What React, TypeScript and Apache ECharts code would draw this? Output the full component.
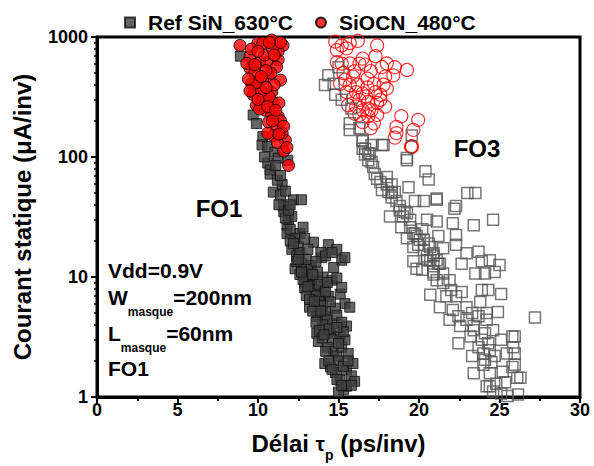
import React, { useEffect, useRef } from "react";
import * as echarts from "echarts";

const FONT = "'Liberation Sans', Arial, sans-serif";

const legendNames = ["Ref SiN_630°C", "SiOCN_480°C"];
const xName = "{b|Délai }{t|τ}{s|p}{b| (ps/inv)}";
const yName = "Courant statique (μA/inv)";

// Ref SiN 630°C, FO1 (filled squares)
const refSiN_FO1: [number, number][] = [
  [8.9, 692], [9.7, 224], [10.3, 148], [10.25, 126], [10.6, 122], [10.6, 89], [10.75, 78], [11.05, 110], [11.25, 98], [11.85, 94],
  [10.75, 72], [10.95, 51], [11.5, 59], [11.57, 39], [12.2, 44], [12.7, 44], [11.8, 27], [11.8, 23], [12.6, 23], [12.1, 17],
  [13.45, 19.5], [14.37, 18.6], [14.9, 17], [15.2, 13.8], [13.95, 14.5], [12.3, 11.7], [12.9, 8.9], [13.35, 9.4], [14.05, 10], [14.6, 9.4],
  [12.9, 8.1], [13.2, 5.6], [13.85, 6.9], [14.37, 6.9], [15.1, 7.2], [15.4, 6.0], [13.65, 4.7], [14.15, 4.7], [14.7, 4.1], [13.65, 3.4],
  [13.75, 2.9], [14.5, 3.4], [15.1, 3.2], [15.5, 3.9], [14.15, 1.9], [14.8, 1.6], [15.1, 1.38], [15.5, 1.68], [15.3, 1.15], [15.5, 1.23],
  [14.5, 1.78], [11.2, 64], [11.4, 48], [11.6, 35], [11.9, 30], [12.0, 25], [12.3, 21], [12.5, 18], [12.4, 15], [12.7, 13],
  [12.9, 12], [13.1, 11], [13.0, 9.8], [13.3, 8.5], [13.5, 7.8], [13.6, 7], [13.8, 6.2], [14.0, 5.8], [14.2, 5.2], [14.3, 4.4],
  [14.0, 4.0], [14.4, 3.7], [14.6, 3.0], [14.3, 2.6], [14.7, 2.4], [14.9, 2.2], [15.0, 2.0], [15.3, 1.8], [15.2, 2.6], [15.6, 2.3],
  [15.8, 1.5], [15.0, 1.1], [13.3, 12.5], [13.7, 11], [14.1, 8.3], [14.8, 5.5], [15.7, 5.6], [15.9, 1.9], [16.0, 1.35], [12.1, 32],
  [11.3, 40], [11.1, 85], [13.9, 16], [14.2, 15], [14.6, 16], [15.4, 14.5], [9.9, 190], [10.4, 100],
  [11.7, 31], [12.0, 20], [12.4, 13.5], [12.6, 10.5], [12.8, 9.5], [13.0, 7], [13.2, 6.5], [13.4, 5.2], [13.6, 4.2], [13.8, 3.6],
  [14.0, 3.1], [14.2, 2.4], [14.4, 2.0], [14.6, 1.7], [14.9, 1.4], [15.2, 1.25], [12.6, 16], [13.0, 14], [13.4, 10.5], [13.8, 8.7],
  [14.2, 7.6], [14.5, 6.2], [14.9, 4.8], [15.2, 4.2], [15.4, 3.0], [15.6, 2.0], [15.8, 1.25], [13.1, 17], [12.9, 21], [12.8, 26],
  [13.6, 13.5], [14.3, 9], [14.9, 9.8], [15.2, 8.2], [14.7, 12], [15.0, 2.8], [15.3, 3.5], [14.9, 3.8], [14.1, 3.3], [13.9, 5.2],
  [13.5, 6.3], [13.1, 8.3], [12.7, 11], [12.5, 14], [12.2, 19], [11.9, 36], [11.4, 70], [11.7, 52], [12.0, 40],
];

// SiOCN 480°C, FO1 (filled circles)
const siOCN_FO1: [number, number][] = [
  [8.88, 851], [10.0, 891], [10.85, 944], [11.55, 851], [9.5, 692], [11.25, 759], [11.25, 646], [10.1, 617], [10.55, 617], [9.5, 550],
  [9.8, 501], [11.15, 562], [11.4, 437], [10.65, 468], [9.6, 407], [10.0, 372], [10.85, 347], [9.7, 331], [10.25, 299], [10.95, 282],
  [9.9, 269], [10.45, 245], [10.85, 224], [11.25, 219], [10.65, 195], [11.15, 174], [10.95, 151], [11.7, 138], [11.9, 85],
  [10.3, 447], [10.7, 316], [10.2, 355], [9.9, 417], [10.4, 708], [10.8, 501], [11.0, 398], [11.3, 282], [11.4, 200], [11.5, 158],
  [11.6, 112], [10.9, 794], [9.6, 794], [9.3, 603], [9.4, 447], [10.1, 251], [10.6, 158], [10.9, 200], [11.2, 132], [10.5, 525],
  [10.3, 891], [11.0, 708], [9.8, 589], [10.2, 468], [10.5, 380], [9.5, 355], [10.0, 302], [10.6, 263], [11.1, 245], [11.6, 180],
  [11.3, 155], [11.8, 120], [10.0, 760], [11.4, 900], [10.7, 900],
];

// Ref SiN 630°C, FO3 (open squares)
const refSiN_FO3: [number, number][] = [
  [14.37, 479], [14.16, 398], [14.7, 407], [14.8, 330], [15.2, 300], [15.0, 560], [15.8, 254], [15.7, 191], [16.3, 174], [15.7, 168],
  [16.5, 138], [17.05, 126], [17.7, 126], [16.65, 117], [16.85, 107], [19.55, 151], [19.25, 98],
  [16.5, 135], [17.8, 126], [16.5, 117], [16.95, 107], [16.85, 94], [19.25, 94], [17.15, 83], [20.4, 76], [20.6, 65],
  [17.4, 66], [18.0, 68], [18.3, 59], [19.35, 56], [17.7, 53], [18.5, 51], [18.3, 46], [19.75, 43], [20.3, 43], [21.1, 44],
  [18.8, 39], [18.2, 32], [19.1, 35], [19.45, 30], [20.5, 30], [21.1, 29], [22.1, 28], [18.9, 26], [19.75, 23], [20.2, 25],
  [19.25, 21], [21.2, 22], [19.95, 18.6], [20.7, 17.8], [21.5, 17.4], [19.65, 13.5], [20.5, 14.8], [21.1, 13.8], [20.2, 11.5], [20.9, 11],
  [22.3, 18.6], [22.2, 37],
  [16.65, 105], [17.05, 91], [17.25, 72], [17.6, 62], [18.0, 59], [18.1, 51], [18.3, 50], [18.6, 43], [18.8, 36], [19.0, 32],
  [19.25, 34], [19.45, 26], [19.65, 23], [19.85, 22], [20.05, 20.4], [20.3, 16.8], [19.65, 17.8], [20.7, 13.8], [20.9, 15.8], [21.2, 12.9],
  [19.85, 11.7],
  [22.3, 22.4], [22.95, 15.8], [23.7, 16.2], [24.4, 13.8], [25.0, 12.6], [22.65, 12.9], [23.9, 13.5], [23.5, 10.7], [24.1, 10.7], [24.7, 11],
  [20.6, 19], [20.5, 13.8], [20.9, 12.3], [21.1, 9.4], [20.7, 7.1], [21.5, 8.9], [21.7, 6.9], [21.3, 5.6], [22.0, 7.8], [22.65, 7.5],
  [23.9, 7.8], [24.3, 7.8], [25.1, 7.2], [23.8, 6.2], [24.9, 5.1], [27.2, 4.6], [22.1, 5.3], [21.9, 4.4], [22.55, 3.9], [22.45, 4.7],
  [22.95, 4.4], [23.4, 3.9], [24.2, 4.4], [24.6, 3.6], [23.2, 3.2], [23.9, 3.0], [22.45, 2.8], [25.1, 3.0], [25.95, 3.2], [25.85, 2.6],
  [25.45, 2.3], [25.95, 2.3], [23.3, 2.2], [24.0, 2.3], [24.5, 1.95], [24.0, 1.86], [25.95, 1.86], [23.4, 1.58], [24.4, 1.58], [25.2, 1.62],
  [26.3, 1.45], [24.2, 1.23], [24.8, 1.29], [25.35, 1.33], [24.6, 1.11], [25.1, 1.07], [26.15, 1.05],
  [20.3, 20.4], [20.9, 15.1], [21.3, 12.9], [20.9, 10.5], [21.5, 10.7], [21.9, 9.4], [22.3, 6.9], [22.95, 5.6], [23.3, 5.0], [23.7, 4.7],
  [24.2, 5.0], [23.4, 3.6], [24.1, 3.4], [24.3, 2.8], [23.7, 2.6], [24.4, 2.45], [24.1, 2.04], [24.7, 2.2],
  [25.8, 3.2], [25.8, 1.78], [26.1, 1.45], [24.4, 1.23], [25.5, 1.02],
  [23.0, 50], [23.5, 50], [22.3, 39], [21.1, 45], [24.6, 30], [23.4, 27],
];

// SiOCN 480°C, FO3 (open circles)
const siOCN_FO3: [number, number][] = [
  [14.8, 915], [15.7, 891], [17.4, 851], [14.9, 776], [15.5, 804], [16.5, 661], [17.3, 692], [18.0, 603], [14.9, 617], [15.7, 603],
  [16.65, 589], [17.7, 562], [19.25, 531], [18.4, 479], [15.3, 501], [15.9, 468], [17.9, 468], [15.1, 407], [15.7, 398], [17.2, 407],
  [18.0, 372], [15.5, 347], [16.1, 347], [16.5, 339], [17.3, 347], [15.9, 309], [16.3, 299], [16.85, 288], [17.4, 282], [17.9, 263],
  [16.1, 263], [16.5, 245], [17.05, 245], [16.3, 224], [16.85, 219], [17.4, 224], [16.5, 195], [17.2, 191], [17.0, 174], [18.9, 219],
  [19.95, 204], [18.6, 178], [18.6, 158], [18.5, 145], [19.65, 168], [19.55, 123], [19.55, 121], [19.5, 122],
  [16.0, 520], [16.8, 450], [15.4, 440], [16.2, 400], [16.8, 380], [17.6, 330], [16.7, 320], [16.0, 230], [17.6, 300], [15.2, 850],
  [16.2, 930], [17.0, 520], [18.5, 560], [17.8, 400], [16.9, 250], [15.6, 270], [16.3, 600], [15.2, 600],
];

export default function App() {
  const ref = useRef<HTMLDivElement>(null);
  useEffect(() => {
    if (!ref.current) return;
    const chart = echarts.init(ref.current, undefined, { renderer: "svg" });
    const bold = { fontFamily: FONT, fontWeight: "bold" as const, color: "#000" };
    chart.setOption({
      animation: false,
      backgroundColor: "#fff",
      grid: {
        left: 97, right: 14, top: 37, bottom: 69,
        outerBoundsMode: "none",
        containLabel: false,
        show: true, borderColor: "#000", borderWidth: 3, backgroundColor: "transparent",
      },
      legend: {
        data: legendNames,
        left: 119,
        top: 7,
        itemWidth: 10,
        itemHeight: 10,
        itemGap: 22,
        textStyle: { ...bold, fontSize: 21, padding: [0, 0, 0, 8] },
      },
      xAxis: {
        type: "value",
        min: 0,
        max: 30,
        interval: 5,
        name: xName,
        nameLocation: "middle",
        nameGap: 27,
        nameTextStyle: {
          rich: {
            b: { ...bold, fontSize: 24 },
            t: { ...bold, fontSize: 21 },
            s: { ...bold, fontSize: 14, padding: [24, 0, 0, 0] },
          },
        },
        axisLine: { show: true, lineStyle: { color: "#000", width: 3 } },
        axisTick: { show: true, inside: false, length: 6, lineStyle: { color: "#000", width: 2 } },
        minorTick: { show: true, splitNumber: 2, length: 4, lineStyle: { color: "#000", width: 2 } },
        axisLabel: { ...bold, fontSize: 18, margin: 4 },
        splitLine: { show: false },
      },
      yAxis: {
        type: "log",
        logBase: 10,
        min: 1,
        max: 1000,
        name: yName,
        nameLocation: "middle",
        nameRotate: 90,
        nameGap: 63,
        nameTextStyle: { ...bold, fontSize: 24 },
        axisLine: { show: true, lineStyle: { color: "#000", width: 3 } },
        axisTick: { show: true, inside: false, length: 6, lineStyle: { color: "#000", width: 2 } },
        minorTick: { show: true, splitNumber: 9, length: 3, lineStyle: { color: "#000", width: 1.5 } },
        axisLabel: { ...bold, fontSize: 18, margin: 9, formatter: (v: number) => String(Math.round(v)) },
        splitLine: { show: false },
      },
      series: [
        {
          name: "SiOCN_480°C FO3",
          type: "scatter",
          data: siOCN_FO3,
          symbol: "circle",
          symbolSize: 13,
          itemStyle: { color: "rgba(255,255,255,0)", borderColor: "#ff0000", borderWidth: 1.2 },
        },
        {
          name: "Ref SiN_630°C FO3",
          type: "scatter",
          data: refSiN_FO3,
          symbol: "rect",
          symbolSize: 11,
          itemStyle: { color: "rgba(255,255,255,0)", borderColor: "#555", borderWidth: 1.5 },
        },
        {
          name: legendNames[0],
          type: "scatter",
          data: refSiN_FO1,
          symbol: "rect",
          symbolSize: 10,
          itemStyle: { color: "#3f3f3f", borderColor: "#111", borderWidth: 1 },
        },
        {
          name: legendNames[1],
          type: "scatter",
          data: siOCN_FO1,
          symbol: "circle",
          symbolSize: 12,
          itemStyle: { color: "#ff0000", borderColor: "#000", borderWidth: 1 },
        },
      ],
      graphic: [
        { type: "text", x: 219, y: 208, style: { text: "FO1", fill: "#000", fontFamily: FONT, fontWeight: "bold", fontSize: 24, align: "center", verticalAlign: "middle" } },
        { type: "text", x: 477, y: 148, style: { text: "FO3", fill: "#000", fontFamily: FONT, fontWeight: "bold", fontSize: 24, align: "center", verticalAlign: "middle" } },
        { type: "text", x: 108, y: 270, style: { text: "Vdd=0.9V", fill: "#000", fontFamily: FONT, fontWeight: "bold", fontSize: 21, align: "left", verticalAlign: "middle" } },
        {
          type: "text", x: 108, y: 297,
          style: {
            text: "{b|W}{s|masque}{b|=200nm}", align: "left", verticalAlign: "middle",
            rich: {
              b: { fill: "#000", fontFamily: FONT, fontWeight: "bold", fontSize: 21 },
              s: { fill: "#000", fontFamily: FONT, fontWeight: "bold", fontSize: 12, padding: [30, 0, 0, 0] },
            },
          },
        },
        {
          type: "text", x: 108, y: 333,
          style: {
            text: "{b|L}{s|masque}{b|=60nm}", align: "left", verticalAlign: "middle",
            rich: {
              b: { fill: "#000", fontFamily: FONT, fontWeight: "bold", fontSize: 21 },
              s: { fill: "#000", fontFamily: FONT, fontWeight: "bold", fontSize: 12, padding: [30, 0, 0, 0] },
            },
          },
        },
        { type: "text", x: 108, y: 368, style: { text: "FO1", fill: "#000", fontFamily: FONT, fontWeight: "bold", fontSize: 21, align: "left", verticalAlign: "middle" } },
      ],
    });
    return () => chart.dispose();
  }, []);
  return <div ref={ref} style={{ position: "fixed", left: 0, top: 0, width: 594, height: 466 }} />;
}
